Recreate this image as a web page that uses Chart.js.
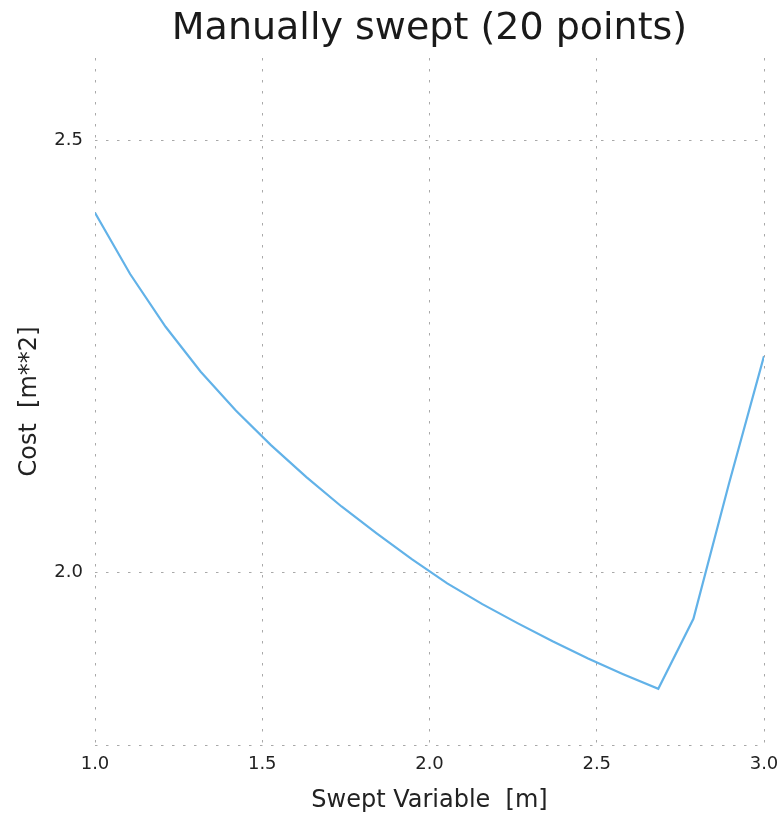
<!DOCTYPE html>
<html>
<head>
<meta charset="utf-8">
<script src="https://cdn.jsdelivr.net/npm/chart.js@4/dist/chart.umd.min.js"></script>
<style>
  body { margin: 0; background: #fff; }
  #myChart { display: block; }
</style>
</head>
<body>
<canvas id="myChart" width="782" height="816"></canvas>
<script>
// swept values (x) and cost
var sweptVals = [1.000, 1.105, 1.211, 1.316, 1.421, 1.526, 1.632, 1.737, 1.842, 1.947,
                 2.053, 2.158, 2.263, 2.368, 2.474, 2.579, 2.684, 2.789, 2.895, 3.000];
var costVals  = [2.416, 2.345, 2.284, 2.232, 2.187, 2.147, 2.110, 2.076, 2.045, 2.015,
                 1.987, 1.963, 1.941, 1.920, 1.900, 1.882, 1.865, 1.946, 2.102, 2.250];
var yTicks = [2.0, 2.5];
var xTicks = [1.0, 1.5, 2.0, 2.5, 3.0];

var chart;

function showchart() {
    const ctx = document.getElementById('myChart');
    let points = [];
    for (let i = 0; i < sweptVals.length; i++) {
        points.push({ x: sweptVals[i], y: costVals[i] });
    }

    const gridColor = '#a8a8a8';
    const dots = [2.5, 8.5];
    const fontName = "'DejaVu Sans', sans-serif";

    chart = new Chart(ctx, {
        type: 'line',
        data: {
            datasets: [{
                label: 'cost',
                data: points,
                borderWidth: 2.2,
                borderColor: '#62b2e8',
                pointRadius: 0,
                tension: 0,
                fill: false
            }]
        },
        options: {
            responsive: false,
            animation: false,
            layout: { padding: { left: 0, right: 18, top: 0, bottom: 0 } },
            plugins: {
                legend: { display: false },
                tooltip: { enabled: false },
                title: {
                    display: true,
                    text: 'Manually swept (20 points)',
                    fullSize: false,
                    color: '#1a1a1a',
                    font: { family: fontName, size: 38, weight: 'normal' },
                    padding: { top: 6, bottom: 6.4 }
                }
            },
            scales: {
                x: {
                    type: 'linear',
                    min: 1.0,
                    max: 3.0,
                    afterBuildTicks: (scale) => { scale.ticks = xTicks.map(v => ({ value: v })); },
                    afterFit: (scale) => {
                        scale.height = 71;
                        // let the "3.0" label hang past the plot edge
                        scale.paddingRight = 0;
                        scale.paddingLeft = 0;
                    },
                    grid: {
                        color: gridColor,
                        lineWidth: 1,
                        drawTicks: false
                    },
                    border: { display: false, dash: dots },
                    ticks: {
                        padding: 9,
                        color: '#222',
                        font: { family: fontName, size: 18 },
                        callback: (v) => Number(v).toFixed(1)
                    },
                    title: {
                        display: true,
                        text: 'Swept Variable  [m]',
                        color: '#222',
                        font: { family: fontName, size: 24 },
                        padding: { top: 0, bottom: 1 }
                    }
                },
                y: {
                    type: 'linear',
                    min: 1.8,
                    max: 2.595,
                    // bottom edge gets a dotted line but no label
                    afterBuildTicks: (scale) => {
                        scale.ticks = [{ value: scale.min }].concat(yTicks.map(v => ({ value: v })));
                    },
                    afterFit: (scale) => { scale.width = 95; },
                    grid: {
                        color: gridColor,
                        lineWidth: 1,
                        drawTicks: false
                    },
                    border: { display: false, dash: dots },
                    ticks: {
                        padding: 12,
                        color: '#222',
                        font: { family: fontName, size: 18 },
                        callback: (v) => yTicks.indexOf(v) >= 0 ? Number(v).toFixed(1) : ''
                    },
                    title: {
                        display: true,
                        text: 'Cost  [m**2]',
                        color: '#222',
                        font: { family: fontName, size: 24 },
                        padding: { top: 15, bottom: 0 }
                    }
                }
            }
        }
    });
}

showchart();
</script>
</body>
</html>
